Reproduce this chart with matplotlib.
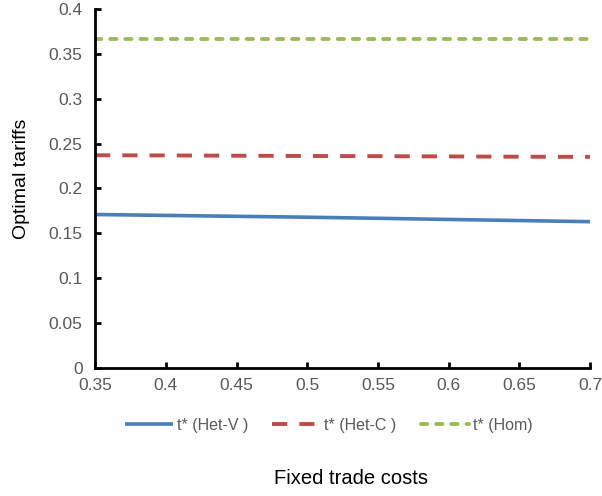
import matplotlib
matplotlib.use("Agg")
import matplotlib.pyplot as plt
from matplotlib.ticker import MultipleLocator, FuncFormatter

plt.rcParams['font.family'] = ['Liberation Sans', 'DejaVu Sans']

# Fixed trade costs on the horizontal axis
fixed_costs = [0.35, 0.40, 0.45, 0.50, 0.55, 0.60, 0.65, 0.70]

# Optimal tariffs for each model variant
tariff_het_v = [0.171, 0.170, 0.169, 0.168, 0.1668, 0.1655, 0.1643, 0.163]
tariff_het_c = [0.237, 0.2368, 0.2365, 0.2362, 0.236, 0.2357, 0.2354, 0.2352]
tariff_hom = [0.367, 0.367, 0.367, 0.367, 0.367, 0.367, 0.367, 0.367]

series_labels = ["t* (Het-V )", "t* (Het-C )", "t* (Hom)"]

fig = plt.figure(figsize=(6.02, 4.96), dpi=100)
ax = fig.add_axes([0.158, 0.258, 0.822, 0.724])

ax.plot(fixed_costs, tariff_het_v, color="#4a7ebb", lw=2.6,
        solid_capstyle="butt", label=series_labels[0])
ax.plot(fixed_costs, tariff_het_c, color="#be4b48", lw=2.8,
        dashes=(3.9, 3.1), dash_capstyle="butt", label=series_labels[1])
ax.plot(fixed_costs, tariff_hom, color="#9bbb59", lw=2.8,
        dashes=(1.6, 2.3), dash_capstyle="round", label=series_labels[2])

ax.set_xlim(0.35, 0.70)
ax.set_ylim(0, 0.40)
ax.xaxis.set_major_locator(MultipleLocator(0.05))
ax.yaxis.set_major_locator(MultipleLocator(0.05))

def fmt(v, pos):
    return f"{v:.2f}".rstrip("0").rstrip(".")

ax.xaxis.set_major_formatter(FuncFormatter(fmt))
ax.yaxis.set_major_formatter(FuncFormatter(fmt))

for side in ("top", "right"):
    ax.spines[side].set_visible(False)
for side in ("left", "bottom"):
    ax.spines[side].set_linewidth(2.0)
    ax.spines[side].set_color("black")

ax.tick_params(axis="both", direction="in", length=4, width=2.0,
               colors="black", labelcolor="#595959", labelsize=12.5)
ax.tick_params(axis="x", pad=7)
ax.tick_params(axis="y", pad=9)

fig.text(0.036, 0.64, "Optimal tariffs", rotation=90, ha="center",
         va="center", fontsize=14, color="black")
fig.text(0.583, 0.036, "Fixed trade costs", ha="center", va="center",
         fontsize=14.5, color="black")

fig.legend(loc="center", bbox_to_anchor=(0.546, 0.143), ncol=3,
           frameon=False, fontsize=11.5, labelcolor="#595959",
           handlelength=3.0, handletextpad=0.25, columnspacing=1.5)

fig.savefig("out.png", dpi=100)
